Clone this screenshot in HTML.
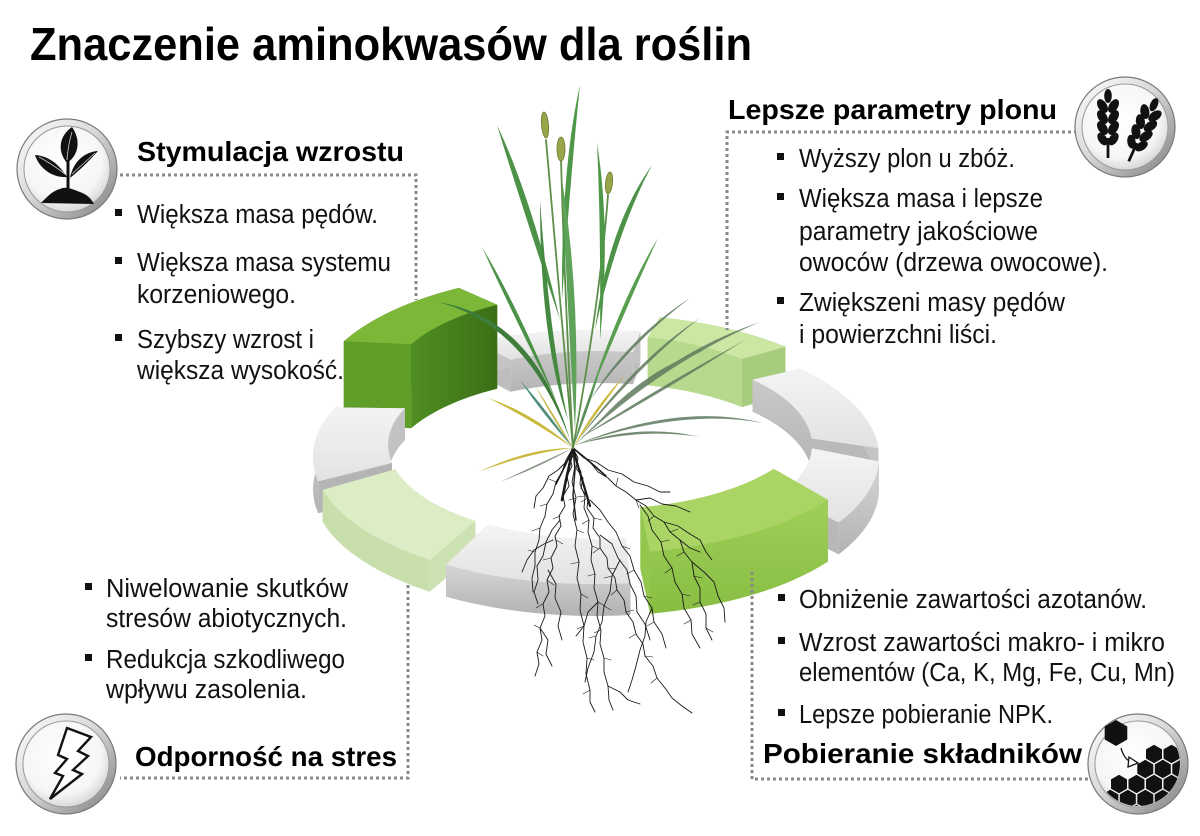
<!DOCTYPE html>
<html lang="pl">
<head>
<meta charset="utf-8">
<title>Znaczenie aminokwasów dla roślin</title>
<style>
  html,body{margin:0;padding:0;background:#ffffff;}
  svg{display:block;}
  .t{font-family:"Liberation Sans","DejaVu Sans",sans-serif;fill:#111;}
  .h{font-family:"Liberation Sans","DejaVu Sans",sans-serif;font-weight:bold;fill:#000;}
</style>
</head>
<body>
<svg width="1200" height="836" viewBox="0 0 1200 836" xmlns="http://www.w3.org/2000/svg">
<defs>
  <linearGradient id="ringG" x1="0" y1="0" x2="1" y2="1">
    <stop offset="0" stop-color="#ffffff"/>
    <stop offset="0.45" stop-color="#d9d9d9"/>
    <stop offset="1" stop-color="#7d7d7d"/>
  </linearGradient>
  <radialGradient id="discG" cx="0.45" cy="0.4" r="0.65">
    <stop offset="0" stop-color="#ffffff"/>
    <stop offset="0.7" stop-color="#f6f6f6"/>
    <stop offset="1" stop-color="#cfcfcf"/>
  </radialGradient>
  <linearGradient id="gTop" x1="0" y1="0" x2="0" y2="1">
    <stop offset="0" stop-color="#f4f4f4"/>
    <stop offset="1" stop-color="#e2e2e2"/>
  </linearGradient>
  <linearGradient id="gWallO" x1="0" y1="0" x2="0" y2="1">
    <stop offset="0" stop-color="#d6d6d6"/>
    <stop offset="1" stop-color="#b2b2b2"/>
  </linearGradient>
  <linearGradient id="gWallI" x1="0" y1="0" x2="0" y2="1">
    <stop offset="0" stop-color="#c9c9c9"/>
    <stop offset="1" stop-color="#b4b4b4"/>
  </linearGradient>
  <linearGradient id="tlWall" gradientUnits="userSpaceOnUse" x1="411" y1="0" x2="497" y2="0">
    <stop offset="0" stop-color="#4f8e22"/>
    <stop offset="1" stop-color="#3c6f15"/>
  </linearGradient>
  <linearGradient id="brWall" gradientUnits="userSpaceOnUse" x1="0" y1="500" x2="0" y2="614">
    <stop offset="0" stop-color="#9fcf58"/>
    <stop offset="1" stop-color="#88bd42"/>
  </linearGradient>
  <clipPath id="hexClip"><circle cx="1138" cy="764" r="42"/></clipPath>
</defs>

<!-- TITLE -->
<text class="h" x="30" y="60" font-size="46" textLength="722" lengthAdjust="spacingAndGlyphs">Znaczenie aminokwasów dla roślin</text>

<!-- ================= RING ================= -->
<!-- S7 top gray -->
<g>
  <path fill="#bdbdbd" d="M476.4,341.9 L510.4,359.8 L510.4,391.8 L476.4,373.9 Z"/>
  <path fill="#bdbdbd" d="M640.3,331.6 L633.2,352.2 L633.2,384.2 L640.3,363.6 Z"/>
  <path fill="#c4c4c4" d="M476.4,341.9 A283,127 0 0 1 640.3,331.6 L640.3,363.6 A283,127 0 0 0 476.4,373.9 Z"/>
  <path fill="url(#gWallI)" d="M510.4,359.8 A212,94 0 0 1 633.2,352.2 L633.2,384.2 A212,94 0 0 0 510.4,391.8 Z"/>
  <path fill="url(#gTop)" d="M476.4,341.9 A283,127 0 0 1 640.3,331.6 L633.2,352.2 A212,94 0 0 0 510.4,359.8 Z"/>
</g>
<!-- S8 TR light green -->
<g>
  <path fill="#b2d48a" d="M659.7,317.3 L647.7,337.4 L647.7,385.4 L659.7,365.3 Z"/>
  <path fill="#b2d48a" d="M659.7,317.3 A283,127 0 0 1 785.4,346.6 L785.4,394.6 A283,127 0 0 0 659.7,365.3 Z"/>
  <path fill="#b7d98d" d="M647.7,337.4 A212,94 0 0 1 741.9,359.1 L741.9,407.1 A212,94 0 0 0 647.7,385.4 Z"/>
  <path fill="#a8cc7e" d="M785.4,346.6 L741.9,359.1 L741.9,407.1 L785.4,394.6 Z"/>
  <path fill="#cbe7a3" d="M659.7,317.3 A283,127 0 0 1 785.4,346.6 L741.9,359.1 A212,94 0 0 0 647.7,337.4 Z"/>
</g>
<!-- S6 TL dark green (tall) -->
<g>
  <path fill="#427c1a" d="M343.8,341.3 A283,127 0 0 1 458.8,287.9 L458.8,371.9 A283,127 0 0 0 343.8,425.3 Z"/>
  <path fill="#427c1a" d="M458.8,287.9 L497.2,304.8 L497.2,388.8 L458.8,371.9 Z"/>
  <path fill="#5e9e29" d="M343.8,341.3 L411.1,344.3 L411.1,428.3 L343.8,425.3 Z"/>
  <path fill="url(#tlWall)" d="M411.1,344.3 A212,94 0 0 1 497.2,304.8 L497.2,388.8 A212,94 0 0 0 411.1,428.3 Z"/>
  <path fill="#7cb737" d="M343.8,341.3 A283,127 0 0 1 458.8,287.9 L497.2,304.8 A212,94 0 0 0 411.1,344.3 Z"/>
</g>
<!-- S9 right-upper gray -->
<g>
  <path fill="#bdbdbd" d="M799.6,368.8 L752.5,379.7 L752.5,411.7 L799.6,400.8 Z"/>
  <path fill="#b9b9b9" d="M878.3,448.1 L811.5,438.4 L811.5,470.4 L878.3,480.1 Z"/>
  <path fill="#c4c4c4" d="M799.6,368.8 A283,127 0 0 1 878.3,448.1 L878.3,480.1 A283,127 0 0 0 799.6,400.8 Z"/>
  <path fill="url(#gWallI)" d="M752.5,379.7 A212,94 0 0 1 811.5,438.4 L811.5,470.4 A212,94 0 0 0 752.5,411.7 Z"/>
  <path fill="url(#gTop)" d="M799.6,368.8 A283,127 0 0 1 878.3,448.1 L811.5,438.4 A212,94 0 0 0 752.5,379.7 Z"/>
</g>
<!-- S5 left gray -->
<g>
  <path fill="#bcbcbc" d="M335.5,407.4 L404.9,408.3 L404.9,440.3 L335.5,439.4 Z"/>
  <path fill="#c2c2c2" d="M391.9,462.9 A212,94 0 0 1 404.9,408.3 L404.9,440.3 A212,94 0 0 0 391.9,494.9 Z"/>
  <path fill="#b4b4b4" d="M318.2,481.2 L391.9,462.9 L391.9,494.9 L318.2,513.2 Z"/>
  <path fill="url(#gWallO)" d="M318.2,481.2 A283,127 0 0 1 335.5,407.4 L335.5,439.4 A283,127 0 0 0 318.2,513.2 Z"/>
  <path fill="url(#gTop)" d="M318.2,481.2 A283,127 0 0 1 335.5,407.4 L404.9,408.3 A212,94 0 0 0 391.9,462.9 Z"/>
</g>
<!-- S1 right-lower gray -->
<g>
  <path fill="#bcbcbc" d="M878.8,461.4 L811.9,448.3 L811.9,480.3 L878.8,493.4 Z"/>
  <path fill="#c2c2c2" d="M811.9,448.3 A212,94 0 0 1 781.7,493.4 L781.7,525.4 A212,94 0 0 0 811.9,480.3 Z"/>
  <path fill="#b8b8b8" d="M838.6,522.4 L781.7,493.4 L781.7,525.4 L838.6,554.4 Z"/>
  <path fill="url(#gWallO)" d="M878.8,461.4 A283,127 0 0 1 838.6,522.4 L838.6,554.4 A283,127 0 0 0 878.8,493.4 Z"/>
  <path fill="url(#gTop)" d="M878.8,461.4 A283,127 0 0 1 838.6,522.4 L781.7,493.4 A212,94 0 0 0 811.9,448.3 Z"/>
</g>
<!-- S4 BL light green -->
<g>
  <path fill="#c9dfad" d="M475.4,521 A212,94 0 0 1 395.2,469.3 L395.2,501.3 A212,94 0 0 0 475.4,553 Z"/>
  <path fill="#c2d9a6" d="M322.6,489.9 L395.2,469.3 L395.2,501.3 L322.6,521.9 Z"/>
  <path fill="#cde2b2" d="M429.7,559.7 L475.4,521 L475.4,553 L429.7,591.7 Z"/>
  <path fill="#c8dfab" d="M429.7,559.7 A283,127 0 0 1 322.6,489.9 L322.6,521.9 A283,127 0 0 0 429.7,591.7 Z"/>
  <path fill="#dcedc5" d="M429.7,559.7 A283,127 0 0 1 322.6,489.9 L395.2,469.3 A212,94 0 0 0 475.4,521 Z"/>
</g>
<!-- S2 BR green -->
<g>
  <path fill="#8cc046" d="M773.7,468.9 A212,94 0 0 1 640.4,507.3 L640.4,569.3 A212,94 0 0 0 773.7,530.9 Z"/>
  <path fill="#8cc046" d="M827.8,499.8 L773.7,468.9 L773.7,530.9 L827.8,561.8 Z"/>
  <path fill="#93c64c" d="M650,551.7 L640.4,507.3 L640.4,569.3 L650,613.7 Z"/>
  <path fill="url(#brWall)" d="M827.8,499.8 A283,127 0 0 1 650,551.7 L650,613.7 A283,127 0 0 0 827.8,561.8 Z"/>
  <path fill="#aad564" d="M827.8,499.8 A283,127 0 0 1 650,551.7 L640.4,507.3 A212,94 0 0 0 773.7,468.9 Z"/>
</g>
<!-- S3 bottom gray -->
<g>
  <path fill="#c2c2c2" d="M625.8,538.3 A212,94 0 0 1 487.7,524.7 L487.7,556.7 A212,94 0 0 0 625.8,570.3 Z"/>
  <path fill="#bcbcbc" d="M630.5,583 L625.8,538.3 L625.8,570.3 L630.5,615 Z"/>
  <path fill="#c6c6c6" d="M446,564.7 L487.7,524.7 L487.7,556.7 L446,596.7 Z"/>
  <path fill="url(#gWallO)" d="M630.5,583 A283,127 0 0 1 446,564.7 L446,596.7 A283,127 0 0 0 630.5,615 Z"/>
  <path fill="url(#gTop)" d="M630.5,583 A283,127 0 0 1 446,564.7 L487.7,524.7 A212,94 0 0 0 625.8,538.3 Z"/>
</g>

<!-- ================= DOTTED CONNECTORS ================= -->
<g fill="none" stroke="#8a8a8a" stroke-width="3" stroke-dasharray="3 3">
  <path d="M120,175 H416 V300"/>
  <path d="M1077,132 H727 V330"/>
  <path d="M408,585 V778 H120"/>
  <path d="M752,572 V779 H1088"/>
</g>

<!-- ================= PLANT ================= -->
<!-- roots -->
<g fill="none" stroke="#1a1a1a" stroke-linejoin="round" stroke-linecap="round" stroke-width="0.9">
  <path d="M573,448 L570,458 L572,466 L567,476 L569,486 L563,496 L565,506 L559,516 L561,526 L555,536 L557,546 L551,558 L553,568 L547,580 L549,592 L543,604 L545,616 L540,628 L542,640 L537,652 L539,664 L535,676"/>
  <path d="M573,448 L578,458 L576,468 L583,478 L581,488 L588,498 L587,508 L594,518 L593,528 L600,538 L600,548 L607,558 L608,568 L615,578 L617,590 L624,600 L626,612 L633,622 L636,634 L643,644 L645,656 L653,666 L657,678 L665,688 L672,698 L682,706 L692,713"/>
  <path d="M573,448 L576,462 L581,472 L580,484 L585,496 L584,508 L589,520 L588,532 L592,546 L591,560 L595,574 L594,588 L598,602 L597,616 L601,630 L600,644 L604,658 L604,672 L608,686 L609,700 L613,710"/>
  <path d="M573,448 L582,455 L590,462 L598,472 L608,478 L616,486 L626,492 L636,500 L646,506 L654,516 L664,522 L670,532 L680,540 L684,552 L692,562 L694,576 L700,588 L700,602 L706,614 L706,628 L712,640"/>
  <path d="M573,448 L566,460 L562,472 L556,482 L553,494 L547,504 L545,516 L540,528 L539,540 L535,552 L535,566 L532,578 L533,592"/>
  <path d="M573,448 L584,458 L596,462 L608,470 L622,474 L634,482 L648,486 L660,492 L670,492"/>
  <path d="M573,448 L575,466 L572,482 L576,498 L573,514 L577,530 L575,546 L579,562 L577,578 L581,594 L580,610 L584,626 L583,642 L587,658 L586,674 L590,690 L590,702 L595,712"/>
  <path d="M575,455 L566,462 L558,470 L549,476 L543,488 L536,496 L534,508"/>
  <path d="M590,500 L600,510 L608,522 L616,532 L622,546 L630,556 L634,570 L641,582 L644,596 L652,608 L654,622 L662,634 L666,648"/>
  <path d="M560,520 L552,530 L546,542 L543,556 L537,566 L538,580 L534,592 L538,604"/>
  <path d="M600,535 L612,544 L618,558 L627,570 L630,584 L636,596 L637,612 L645,624 L650,640"/>
  <path d="M640,505 L648,516 L652,530 L661,542 L664,556 L672,568 L675,582 L682,594 L684,608 L691,620 L692,634 L700,648"/>
  <path d="M620,560 L612,576 L610,592 L604,606 L602,622 L596,636 L594,652 L588,668 L585,682"/>
  <path d="M548,570 L556,584 L555,598 L561,612 L558,626 L562,640"/>
  <path d="M652,608 L646,622 L645,636 L640,650 L636,666 L632,680 L628,692"/>
  <path d="M692,562 L704,572 L714,582 L718,596 L724,608 L725,622"/>
  <path d="M664,522 L678,526 L690,534 L700,540 L706,552 L712,560"/>
  <path d="M553,540 L544,544 L534,550 L527,560 L522,572"/>
  <path d="M540,628 L548,640 L546,654 L552,666"/>
  <path d="M608,686 L620,692 L628,700 L640,704"/>
  <path d="M636,500 L650,498 L662,504 L676,506 L690,512"/>
  <path d="M598,602 L588,612 L584,626 L576,636"/>
  <path d="M680,540 L690,548 L700,552"/>
  <path stroke-width="0.6" d="M560,516 l-7,3 M556,540 l7,4 M551,558 l-8,2 M547,580 l7,5 M543,604 l-7,4 M540,628 l-6,-3 M537,652 l6,4 M588,498 l-7,4 M594,518 l8,2 M600,548 l-7,5 M608,568 l8,1 M617,590 l-6,5 M626,612 l8,-2 M636,634 l-7,4 M645,656 l8,1 M657,678 l-6,5 M585,496 l-8,1 M589,520 l-7,4 M592,546 l7,3 M595,574 l-7,2 M598,602 l7,4 M601,630 l-7,3 M604,658 l7,2 M616,486 l2,-8 M636,500 l3,8 M654,516 l-6,5 M670,532 l8,-3 M684,552 l-7,4 M694,576 l8,2 M700,602 l-7,3 M706,628 l7,4 M556,482 l-7,-3 M547,504 l-7,2 M540,528 l-8,3 M535,552 l-7,-2 M576,498 l-7,2 M577,530 l7,3 M579,562 l-8,2 M581,594 l7,4 M584,626 l-7,3 M587,658 l7,2 M590,690 l-7,4 M622,546 l8,3 M634,570 l-7,4 M644,596 l8,2 M654,622 l-7,4 M661,542 l8,-2 M672,568 l-7,5 M682,594 l8,2 M691,620 l-7,4 M612,576 l-8,2 M604,606 l7,4 M596,636 l-7,2"/>
  <path stroke-width="2.6" d="M573,448 L570,462 L566,480 L562,500"/>
  <path stroke-width="2.2" d="M573,448 L578,466 L584,486 L590,506"/>
  <path stroke-width="1.6" d="M573,448 L590,462 L606,476"/>
  <path stroke-width="1.6" d="M573,448 L565,466 L556,484"/>
  <path stroke-width="1.4" d="M573,448 L575,470 L573,495 L576,520"/>
</g>

<!-- gray-green leaves to the right -->
<g fill="#5e7a5e" opacity="0.85">
  <path d="M575,445 Q662.2,363.3 760,322 Q657.8,356.7 575,445 Z"/>
  <path d="M575,445 Q680.4,408 763,423 Q679.6,402 575,445 Z"/>
  <path d="M575,445 Q640,427.5 700,437 Q640,422.5 575,445 Z"/>
  <path d="M578,440 Q642.1,362.1 700,318 Q637.9,357.9 578,440 Z"/>
  <path d="M580,438 Q661.5,392.6 745,340 Q658.5,387.4 580,438 Z"/>
  <path d="M590,400 Q632,342 690,298 Q628,338 590,400 Z"/>
  <path d="M600,420 Q652,372 705,350 Q648,368 600,420 Z"/>
</g>
<!-- yellow & gray leaves -->
<g>
  <path fill="#c9b83c" d="M573,448 Q531.5,412.4 488,398 Q528.5,417.6 573,448 Z"/>
  <path fill="#c9b83c" d="M573,448 Q530,452.5 478,472 Q530,447.5 573,448 Z"/>
  <path fill="#c9b83c" d="M573,448 Q597,411.5 625,375 Q593,408.5 573,448 Z"/>
  <path fill="#c2b445" d="M573,448 Q556.5,419 535,385 Q553.5,421 573,448 Z"/>
  <path fill="#8a9a8a" d="M573,448 Q540,467 500,482 Q540,463 573,448 Z"/>
  <path fill="#4f8f7a" d="M573,448 Q545,408 520,380 Q541,412 573,448 Z"/>
  <path fill="#5a8f5a" d="M573,448 Q589,408 600,370 Q583,408 573,448 Z"/>
</g>
<!-- green stems -->
<g fill="none" stroke="#5f8f4a" stroke-width="1.8" stroke-linecap="round">
  <path d="M573,448 Q560,300 546,140"/>
  <path d="M573,448 Q565,300 561,160"/>
  <path d="M573,448 Q600,300 608,195"/>
</g>
<!-- green leaves -->
<g>
  <path fill="#4d9347" d="M560,320 Q531.7,198.2 497,125 Q520.3,201.8 560,320 Z"/>
  <path fill="#4f9748" d="M562,300 Q571,170.4 580,85 Q561,169.6 562,300 Z"/>
  <path fill="#4d9347" d="M595,330 Q616.7,231.6 652,165 Q607.3,228.4 595,330 Z"/>
  <path fill="#58a04f" d="M588,400 Q628.7,301.6 658,238 Q621.3,298.4 588,400 Z"/>
  <path fill="#4d9347" d="M556,400 Q518.6,308.3 482,247 Q511.4,311.7 556,400 Z"/>
  <path fill="#3e7d3c" d="M570,440 Q533.6,316.5 437,302 Q526.4,323.5 570,440 Z"/>
  <path fill="#5fa35a" d="M575,430 Q581,299.6 562,180 Q567,300.4 575,430 Z"/>
  <path fill="#4f9748" d="M600,340 Q611,230 597,143 Q601,230 600,340 Z"/>
  <path fill="#468a42" d="M568,420 Q550,340 540,200 Q540,340 568,420 Z"/>
</g>
<!-- seed heads -->
<g fill="#9aa54a" stroke="#6d7a2e" stroke-width="0.8">
  <ellipse cx="545" cy="125" rx="3.5" ry="13" transform="rotate(-5 545 125)"/>
  <ellipse cx="561" cy="149" rx="4" ry="12"/>
  <ellipse cx="609" cy="183" rx="3.5" ry="11" transform="rotate(6 609 183)"/>
</g>

<!-- ================= ICON CIRCLES ================= -->
<g>
  <circle cx="67" cy="169" r="50" fill="url(#ringG)" stroke="#7a7a7a" stroke-width="1.2"/>
  <circle cx="67" cy="169" r="43" fill="url(#discG)" stroke="#9a9a9a" stroke-width="1"/>
  <circle cx="1125" cy="127" r="50" fill="url(#ringG)" stroke="#7a7a7a" stroke-width="1.2"/>
  <circle cx="1125" cy="127" r="43" fill="url(#discG)" stroke="#9a9a9a" stroke-width="1"/>
  <circle cx="66" cy="764" r="50" fill="url(#ringG)" stroke="#7a7a7a" stroke-width="1.2"/>
  <circle cx="66" cy="764" r="43" fill="url(#discG)" stroke="#9a9a9a" stroke-width="1"/>
  <circle cx="1138" cy="764" r="50" fill="url(#ringG)" stroke="#7a7a7a" stroke-width="1.2"/>
  <circle cx="1138" cy="764" r="43" fill="url(#discG)" stroke="#9a9a9a" stroke-width="1"/>
</g>

<!-- TL sprout icon -->
<g fill="#111">
  <path d="M67,163 C57,151 59,136 72,127 C81,140 79,155 67,163 Z"/>
  <path d="M67,177 C58,163 48,156 35,155 C39,168 52,178 67,177 Z"/>
  <path d="M70,178 C80,170 90,160 98,151 C84,152 73,162 70,178 Z"/>
  <rect x="66.5" y="160" width="3" height="32"/>
  <path d="M41,203 C47,197 52,191 60,189 C66,186 72,189 80,192 C86,194 91,198 94,204 Z"/>
</g>
<g fill="none" stroke="#ffffff" stroke-width="0.8" opacity="0.8">
  <path d="M67,160 Q68,145 72,132"/>
  <path d="M65,174 Q52,164 39,157"/>
  <path d="M72,174 Q84,163 95,153"/>
</g>

<!-- TR wheat icon -->
<g id="ear" fill="#111">
  <rect x="1106.6" y="138" width="2.8" height="20"/>
  <ellipse cx="1108" cy="96" rx="3.8" ry="7"/>
  <ellipse cx="1102.5" cy="106" rx="4.5" ry="7.5" transform="rotate(-32 1102.5 106)"/>
  <ellipse cx="1113.5" cy="106" rx="4.5" ry="7.5" transform="rotate(32 1113.5 106)"/>
  <ellipse cx="1102.5" cy="117" rx="4.5" ry="7.5" transform="rotate(-32 1102.5 117)"/>
  <ellipse cx="1113.5" cy="117" rx="4.5" ry="7.5" transform="rotate(32 1113.5 117)"/>
  <ellipse cx="1102.5" cy="128" rx="4.5" ry="7.5" transform="rotate(-32 1102.5 128)"/>
  <ellipse cx="1113.5" cy="128" rx="4.5" ry="7.5" transform="rotate(32 1113.5 128)"/>
  <ellipse cx="1102.5" cy="139" rx="4.2" ry="7" transform="rotate(-32 1102.5 139)"/>
  <ellipse cx="1113.5" cy="139" rx="4.2" ry="7" transform="rotate(32 1113.5 139)"/>
</g>
<use href="#ear" transform="translate(24,4) rotate(24 1108 150)"/>

<!-- BL lightning icon -->
<path d="M67,728 L91,737 L78,751 L88,756 L73,770 L82,774 L50,799 L63,776 L55,773 L67,759 L58,755 Z" fill="#ffffff" stroke="#111" stroke-width="2.4" stroke-linejoin="miter"/>

<!-- BR hexagon icon -->
<g fill="#111">
  <path d="M1116,720 L1127.3,726.5 L1127.3,739.5 L1116,746 L1104.7,739.5 L1104.7,726.5 Z"/>
  <g clip-path="url(#hexClip)">
    <g id="hx"><path d="M0,-9.2 L8,-4.6 L8,4.6 L0,9.2 L-8,4.6 L-8,-4.6 Z"/></g>
    <use href="#hx" transform="translate(1154,754)"/>
    <use href="#hx" transform="translate(1171.5,754)"/>
    <use href="#hx" transform="translate(1189,754)"/>
    <use href="#hx" transform="translate(1145.3,769)"/>
    <use href="#hx" transform="translate(1162.8,769)"/>
    <use href="#hx" transform="translate(1180.3,769)"/>
    <use href="#hx" transform="translate(1119,784)"/>
    <use href="#hx" transform="translate(1136.5,784)"/>
    <use href="#hx" transform="translate(1154,784)"/>
    <use href="#hx" transform="translate(1171.5,784)"/>
    <use href="#hx" transform="translate(1189,784)"/>
    <use href="#hx" transform="translate(1110.3,799)"/>
    <use href="#hx" transform="translate(1127.8,799)"/>
    <use href="#hx" transform="translate(1145.3,799)"/>
    <use href="#hx" transform="translate(1162.8,799)"/>
    <use href="#hx" transform="translate(1180.3,799)"/>
    <use href="#hx" transform="translate(1119,814)"/>
    <use href="#hx" transform="translate(1136.5,814)"/>
    <use href="#hx" transform="translate(1154,814)"/>
    <use href="#hx" transform="translate(1171.5,814)"/>
  </g>
</g>
<path d="M1121,748 Q1124,759 1131,762" fill="none" stroke="#111" stroke-width="1.3"/>
<path d="M1129,757 L1138,763 L1128,767 Z" fill="#ffffff" stroke="#111" stroke-width="1.3"/>

<!-- ================= HEADINGS ================= -->
<text class="h" x="137" y="161" font-size="28" textLength="267" lengthAdjust="spacingAndGlyphs">Stymulacja wzrostu</text>
<text class="h" x="728" y="119" font-size="28" textLength="329" lengthAdjust="spacingAndGlyphs">Lepsze parametry plonu</text>
<text class="h" x="135" y="766" font-size="28" textLength="262" lengthAdjust="spacingAndGlyphs">Odporność na stres</text>
<text class="h" x="763" y="763" font-size="28" textLength="319" lengthAdjust="spacingAndGlyphs">Pobieranie składników</text>

<!-- ================= BULLETS ================= -->
<g fill="#111">
  <rect x="115" y="209" width="7" height="7"/>
  <rect x="115" y="257" width="7" height="7"/>
  <rect x="115" y="334" width="7" height="7"/>
  <rect x="777" y="153" width="7" height="7"/>
  <rect x="777" y="193" width="7" height="7"/>
  <rect x="777" y="297" width="7" height="7"/>
  <rect x="85" y="583" width="7" height="7"/>
  <rect x="85" y="654" width="7" height="7"/>
  <rect x="778" y="594" width="7" height="7"/>
  <rect x="778" y="637" width="7" height="7"/>
  <rect x="778" y="709" width="7" height="7"/>
</g>

<g class="t" font-size="25.5">
  <text class="t" x="137" y="223" textLength="241" lengthAdjust="spacingAndGlyphs">Większa masa pędów.</text>
  <text class="t" x="137" y="271" textLength="254" lengthAdjust="spacingAndGlyphs">Większa masa systemu</text>
  <text class="t" x="137" y="303" textLength="159" lengthAdjust="spacingAndGlyphs">korzeniowego.</text>
  <text class="t" x="137" y="348" textLength="177" lengthAdjust="spacingAndGlyphs">Szybszy wzrost i</text>
  <text class="t" x="137" y="379" textLength="207" lengthAdjust="spacingAndGlyphs">większa wysokość.</text>

  <text class="t" x="799" y="167" textLength="216" lengthAdjust="spacingAndGlyphs">Wyższy plon u zbóż.</text>
  <text class="t" x="799" y="207" textLength="244" lengthAdjust="spacingAndGlyphs">Większa masa i lepsze</text>
  <text class="t" x="799" y="240" textLength="239" lengthAdjust="spacingAndGlyphs">parametry jakościowe</text>
  <text class="t" x="799" y="271" textLength="309" lengthAdjust="spacingAndGlyphs">owoców (drzewa owocowe).</text>
  <text class="t" x="799" y="311" textLength="266" lengthAdjust="spacingAndGlyphs">Zwiększeni masy pędów</text>
  <text class="t" x="799" y="343" textLength="198" lengthAdjust="spacingAndGlyphs">i powierzchni liści.</text>

  <text class="t" x="106" y="597" textLength="242" lengthAdjust="spacingAndGlyphs">Niwelowanie skutków</text>
  <text class="t" x="106" y="627" textLength="241" lengthAdjust="spacingAndGlyphs">stresów abiotycznych.</text>
  <text class="t" x="106" y="668" textLength="239" lengthAdjust="spacingAndGlyphs">Redukcja szkodliwego</text>
  <text class="t" x="106" y="698" textLength="201" lengthAdjust="spacingAndGlyphs">wpływu zasolenia.</text>

  <text class="t" x="799" y="608" textLength="348" lengthAdjust="spacingAndGlyphs">Obniżenie zawartości azotanów.</text>
  <text class="t" x="799" y="651" textLength="366" lengthAdjust="spacingAndGlyphs">Wzrost zawartości makro- i mikro</text>
  <text class="t" x="799" y="681" textLength="376" lengthAdjust="spacingAndGlyphs">elementów (Ca, K, Mg, Fe, Cu, Mn)</text>
  <text class="t" x="799" y="723" textLength="254" lengthAdjust="spacingAndGlyphs">Lepsze pobieranie NPK.</text>
</g>
</svg>
</body>
</html>
